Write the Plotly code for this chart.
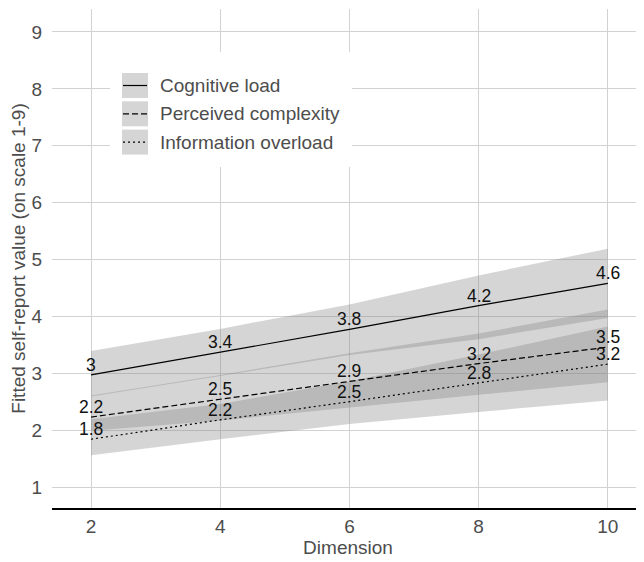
import plotly.graph_objects as go

# ---------------- data ----------------
dimension = [2, 4, 6, 8, 10]
series_names = ["Cognitive load", "Perceived complexity", "Information overload"]

cog_fit = [2.97, 3.37, 3.77, 4.19, 4.58]
cog_upper = [3.39, 3.78, 4.21, 4.72, 5.19]
cog_lower = [2.59, 2.95, 3.32, 3.60, 3.97]
cog_labels = ["3", "3.4", "3.8", "4.2", "4.6"]

perc_fit = [2.23, 2.54, 2.86, 3.17, 3.46]
perc_upper = [2.61, 2.97, 3.35, 3.70, 4.12]
perc_lower = [1.99, 2.17, 2.40, 2.62, 2.84]
perc_labels = ["2.2", "2.5", "2.9", "3.2", "3.5"]

info_fit = [1.84, 2.18, 2.50, 2.83, 3.16]
info_upper = [2.19, 2.46, 2.86, 3.33, 3.82]
info_lower = [1.56, 1.84, 2.11, 2.32, 2.52]
info_labels = ["1.8", "2.2", "2.5", "2.8", "3.2"]

x_ticks = [2, 4, 6, 8, 10]
y_ticks = [1, 2, 3, 4, 5, 6, 7, 8, 9]

fits = [cog_fit, perc_fit, info_fit]
uppers = [cog_upper, perc_upper, info_upper]
lowers = [cog_lower, perc_lower, info_lower]
labels = [cog_labels, perc_labels, info_labels]

# ---------------- styles ----------------
FONT = "Liberation Sans, Arial, sans-serif"
TEXT_GREY = "#4d4d4d"
GRID = "#d2d2d2"
RIBBON = "rgba(128,128,128,0.33)"
dashes = ["solid", "6px,3px", "2px,3px"]

PAGE_OFFSET = 8  # default body margin of the html page
W, H = 644 - PAGE_OFFSET, 562 - PAGE_OFFSET
ML, MR, MT, MB = 44, 0, 1, 54
PW, PH = W - ML - MR, H - MT - MB

fig = go.Figure()

# ribbons
for up, lo in zip(uppers, lowers):
    fig.add_trace(go.Scatter(
        x=dimension + dimension[::-1],
        y=up + lo[::-1],
        fill="toself", fillcolor=RIBBON,
        line=dict(width=0), mode="lines",
        hoverinfo="skip", showlegend=False))

# fitted lines
for name, f, d in zip(series_names, fits, dashes):
    fig.add_trace(go.Scatter(
        x=dimension, y=f, mode="lines", name=name,
        line=dict(color="black", width=1.2, dash=d),
        showlegend=False))

# value labels
annotations = []
for f, lab in zip(fits, labels):
    for xv, yv, t in zip(dimension, f, lab):
        annotations.append(dict(
            x=xv, y=yv, text=t, showarrow=False,
            xanchor="center", yanchor="bottom", yshift=-2,
            font=dict(family=FONT, size=17.5, color="#111111")))

# manual ggplot-style legend (screen pixel layout -> paper coords)
def px_x(p):
    return (p - PAGE_OFFSET - ML) / PW

def px_y(p):
    return (H - MB - (p - PAGE_OFFSET)) / PH

shapes = [dict(type="rect", xref="paper", yref="paper",
               x0=px_x(110), x1=px_x(352), y0=px_y(167), y1=px_y(52),
               fillcolor="white", line=dict(width=0), layer="above")]
key_top = 73
key_step = 28.3
for i, (name, d) in enumerate(zip(series_names, dashes)):
    top = key_top + i * key_step
    bot = top + 25
    mid = (top + bot) / 2
    shapes.append(dict(type="rect", xref="paper", yref="paper",
                       x0=px_x(122), x1=px_x(148), y0=px_y(bot), y1=px_y(top),
                       fillcolor=RIBBON, line=dict(width=0), layer="above"))
    shapes.append(dict(type="line", xref="paper", yref="paper",
                       x0=px_x(123), x1=px_x(147), y0=px_y(mid), y1=px_y(mid),
                       line=dict(color="black", width=1.2, dash=d), layer="above"))
    annotations.append(dict(
        xref="paper", yref="paper", x=px_x(158), y=px_y(mid),
        text=name, showarrow=False, xanchor="left", yanchor="middle",
        font=dict(family=FONT, size=19, color=TEXT_GREY)))

fig.update_layout(
    width=W, height=H,
    margin=dict(l=ML, r=MR, t=MT, b=MB),
    plot_bgcolor="white", paper_bgcolor="white",
    font=dict(family=FONT, size=19, color=TEXT_GREY),
    annotations=annotations, shapes=shapes,
    showlegend=False,
)
fig.update_xaxes(
    range=[1.396, 10.56], tickvals=x_ticks, ticktext=[str(v) for v in x_ticks],
    showgrid=True, gridcolor=GRID, gridwidth=1.3, zeroline=False,
    showline=True, linecolor="black", linewidth=1.6,
    ticks="",
    tickfont=dict(size=19, color=TEXT_GREY),
    title=dict(text="Dimension", font=dict(size=19, color=TEXT_GREY), standoff=3),
)
fig.update_yaxes(
    range=[0.631, 9.404], tickvals=y_ticks, ticktext=[str(v) for v in y_ticks],
    showgrid=True, gridcolor=GRID, gridwidth=1.3, zeroline=False,
    showline=False,
    ticks="outside", ticklen=5, tickcolor="rgba(0,0,0,0)",
    tickfont=dict(size=19, color=TEXT_GREY),
    title=dict(text="Fitted self-report value (on scale 1-9)",
               font=dict(size=19, color=TEXT_GREY), standoff=6),
)

fig.write_html("out.html")
